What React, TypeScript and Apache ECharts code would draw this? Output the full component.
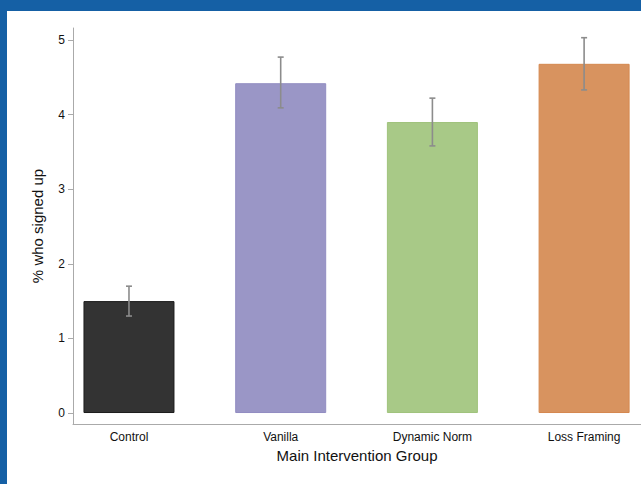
import React, { useEffect, useRef } from "react";
import * as echarts from "echarts";

const categories = ["Control", "Vanilla", "Dynamic Norm", "Loss Framing"];
const means = [1.5, 4.42, 3.9, 4.68];
const lowerCI = [1.3, 4.09, 3.58, 4.33];
const upperCI = [1.7, 4.77, 4.22, 5.03];
const barColors = ["#333333", "#9a96c6", "#a8c987", "#d8935f"];
const barBorders = ["#1c1c1c", "#928dc2", "#9fc37c", "#d5884f"];
const yTicks = [0, 1, 2, 3, 4, 5];
const xPositions = [0, 1, 2, 3];

export default function App() {
  const ref = useRef<HTMLDivElement>(null);
  useEffect(() => {
    if (!ref.current) return;
    const chart = echarts.init(ref.current, null, { renderer: "svg" });
    const font = "'Liberation Sans', Arial, Helvetica, sans-serif";
    chart.setOption({
      animation: false,
      backgroundColor: "#ffffff",
      textStyle: { fontFamily: font },
      grid: { left: 66, right: 0, top: 17, bottom: 60, containLabel: false },
      xAxis: {
        type: "value",
        min: -0.369,
        max: 3.375,
        name: "Main Intervention Group",
        nameLocation: "middle",
        nameGap: 24,
        nameTextStyle: { fontSize: 15, color: "#111", fontFamily: font },
        axisLine: { show: true, onZero: false, lineStyle: { color: "#aaaaaa", width: 1 } },
        axisTick: { show: false },
        splitLine: { show: false },
        axisLabel: {
          customValues: xPositions,
          formatter: (v: number) => categories[Math.round(v)] ?? "",
          fontSize: 12,
          color: "#111",
          margin: 7,
          fontFamily: font,
        },
      },
      yAxis: {
        type: "value",
        min: -0.147,
        max: 5.16,
        name: "% who signed up",
        nameLocation: "middle",
        nameGap: 28,
        nameRotate: 90,
        nameTextStyle: { fontSize: 15, color: "#111", fontFamily: font },
        axisLine: { show: true, onZero: false, lineStyle: { color: "#aaaaaa", width: 1 } },
        axisTick: {
          show: true,
          customValues: yTicks,
          length: 5,
          lineStyle: { color: "#aaaaaa" },
        },
        axisLabel: {
          customValues: yTicks,
          fontSize: 12,
          color: "#111",
          margin: 8,
          fontFamily: font,
        },
        splitLine: { show: false },
      },
      series: [
        {
          type: "bar",
          barWidth: 91,
          data: means.map((m, i) => ({
            value: [xPositions[i], m],
            itemStyle: {
              color: barColors[i],
              borderColor: barBorders[i],
              borderWidth: 1,
            },
          })),
        },
        {
          type: "custom",
          z: 10,
          data: means.map((_, i) => [xPositions[i], lowerCI[i], upperCI[i]]),
          renderItem: (params: any, api: any) => {
            const x = api.value(0);
            const lo = api.coord([x, api.value(1)]);
            const hi = api.coord([x, api.value(2)]);
            const cap = 3;
            const style = { stroke: "#8c8c8c", lineWidth: 1.6 };
            return {
              type: "group",
              children: [
                { type: "line", shape: { x1: lo[0], y1: lo[1], x2: hi[0], y2: hi[1] }, style },
                { type: "line", shape: { x1: hi[0] - cap, y1: hi[1], x2: hi[0] + cap, y2: hi[1] }, style },
                { type: "line", shape: { x1: lo[0] - cap, y1: lo[1], x2: lo[0] + cap, y2: lo[1] }, style },
              ],
            };
          },
        },
      ],
    });
    return () => chart.dispose();
  }, []);
  return (
    <div
      style={{
        position: "fixed",
        left: 0,
        top: 0,
        width: 641,
        height: 484,
        background: "#1560a5",
        overflow: "hidden",
      }}
    >
      <div
        ref={ref}
        style={{ position: "absolute", left: 7, top: 11, width: 634, height: 473, background: "#fff" }}
      />
    </div>
  );
}
